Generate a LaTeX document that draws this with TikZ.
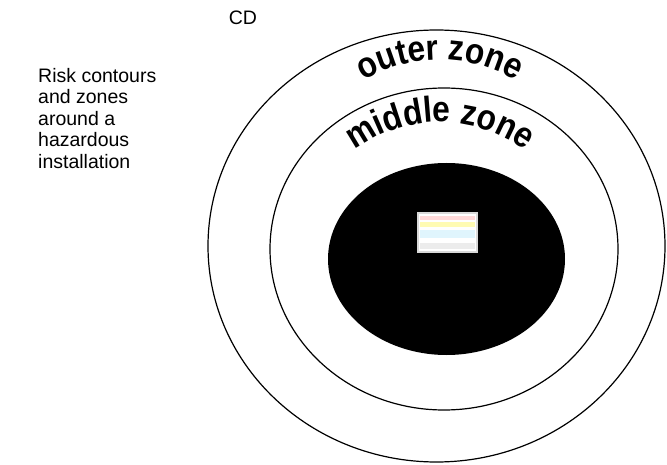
\documentclass[tikz,border=0pt]{standalone}
\usepackage{fontspec}
\setmainfont{Liberation Sans}
\newfontfamily\zonefamily[FakeStretch=0.88]{Liberation Sans}
\usetikzlibrary{decorations.text}
\newcommand\zonefont{\zonefamily\fontsize{36}{36}\selectfont\bfseries}
\tikzset{
  contour/.style={draw=black, line width=1.2pt},
  label text/.style={font=\fontsize{19.5}{21.5}\selectfont, inner sep=0pt},
}
\begin{document}
\begin{tikzpicture}[x=1pt,y=1pt]
\useasboundingbox[fill=white] (0,0) rectangle (667,464);

% zones
\draw[contour] (436.5,218) ellipse [x radius=228.5, y radius=216];
\draw[contour] (444,215) ellipse [x radius=174, y radius=161];
\fill[black] (446.5,205) ellipse [x radius=118.5, y radius=96];

% installation
\node[fill=white, draw=gray!30, line width=1.5pt, minimum width=59, minimum height=39, inner sep=0pt] (plant) at (447.5,231.5) {};
\fill[red!15] (420,244) rectangle (475,248);
\fill[yellow!30] (420,237) rectangle (475,242);
\fill[cyan!12] (420,226) rectangle (475,234);
\fill[gray!15] (420,215) rectangle (475,221);

% zone names
\path[decorate, decoration={text along path, text align=center,
  text={|\zonefont|outer zone}}]
  (440,254) ++(150:150) arc [start angle=150, end angle=30, radius=150];
\path[decorate, decoration={text along path, text align=center,
  text={|\zonefont|middle zone}}]
  (440,200) ++(155:142) arc [start angle=155, end angle=25, radius=142];

\node[label text] (cd) at (243,446) {CD};
\node[label text, anchor=north west, align=left] (caption) at (38,396)
  {Risk contours\\and zones\\around a\\hazardous\\installation};
\end{tikzpicture}
\end{document}
